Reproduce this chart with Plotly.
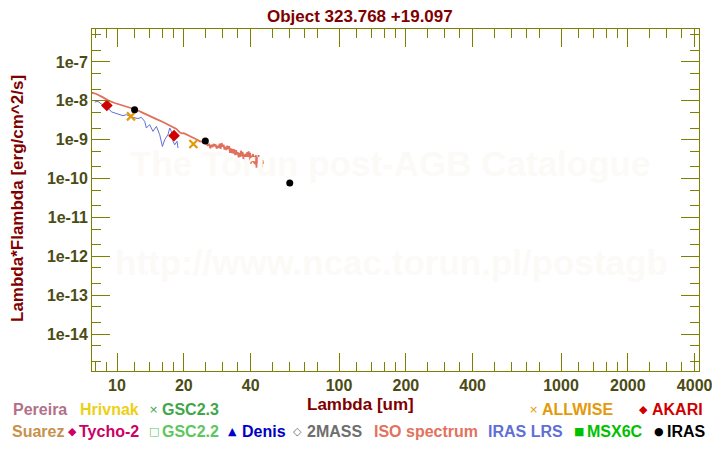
import plotly.graph_objects as go

# ── Data ────────────────────────────────────────────────
iso_lam = [7.71, 8.08, 8.65, 9.11, 9.76, 10.64, 11.41, 12.23, 13.09, 14.03,
           15.05, 16.11, 17.28, 18.52, 19.16, 19.6, 20.0, 20.54, 21.0, 21.5,
           22.0, 22.5, 23.0, 23.6, 24.1, 24.6, 25.2, 25.6,
           26.0, 26.3, 26.6, 26.9, 27.2, 27.5, 27.8, 28.1, 28.4, 28.7,
           29.0, 29.3, 29.6, 29.9, 30.2, 30.5, 30.8, 31.1, 31.4, 31.7,
           32.0, 32.3, 32.6, 32.9, 33.2, 33.5, 33.8, 34.1, 34.4, 34.7,
           35.0, 35.3, 35.6, 35.9, 36.2, 36.5, 36.8, 37.1, 37.4, 37.7,
           38.0, 38.3, 38.6, 38.9, 39.2, 39.5, 39.8, 40.1, 40.4, 40.7,
           41.0, 41.3, 41.6, 41.9, 42.2, 42.5, 42.8, 43.1, 43.4, 43.7,
           44.0, 44.3, 44.6, 44.9, 45.2, 45.5]
iso_flux = [1.62e-8, 1.50e-8, 1.23e-8, 1.03e-8, 8.8e-9, 7.6e-9, 6.8e-9, 5.9e-9, 4.9e-9, 4.0e-9,
            3.4e-9, 2.86e-9, 2.34e-9, 1.89e-9, 1.55e-9, 1.45e-9, 1.47e-9, 1.35e-9, 1.30e-9, 1.18e-9,
            1.12e-9, 1.06e-9, 1.0e-9, 9.1e-10, 9.0e-10, 8.2e-10, 8.0e-10, 7.2e-10,
            7.6e-10, 6.0e-10, 7.4e-10, 6.4e-10, 7.8e-10, 6.8e-10, 7.6e-10, 5.9e-10, 7.0e-10, 6.2e-10,
            7.9e-10, 5.8e-10, 8.2e-10, 6.6e-10, 7.4e-10, 5.6e-10, 6.6e-10, 5.4e-10, 7.0e-10, 5.8e-10,
            6.8e-10, 4.6e-10, 6.0e-10, 4.5e-10, 5.8e-10, 4.4e-10, 5.6e-10, 4.0e-10, 5.4e-10, 4.2e-10,
            4.8e-10, 3.5e-10, 4.6e-10, 3.6e-10, 5.2e-10, 3.8e-10, 4.9e-10, 3.2e-10, 4.2e-10, 3.0e-10,
            4.4e-10, 2.8e-10, 4.8e-10, 3.4e-10, 5.0e-10, 2.6e-10, 4.6e-10, 2.4e-10, 3.9e-10, 2.7e-10,
            4.3e-10, 2.5e-10, 3.8e-10, 2.3e-10, 4.0e-10, 1.9e-10, 3.6e-10, 2.5e-10, 4.0e-10, 2.0e-10,
            3.4e-10, 2.2e-10, 3.3e-10, 1.9e-10, 3.0e-10, 2.4e-10]

lrs_lam = [7.94, 8.21, 8.51, 9.11, 9.44, 9.94, 10.64, 11.02, 11.61, 12.43,
           12.88, 13.33, 13.56, 14.03, 14.53, 15.05, 15.57, 16.02, 16.40, 16.97,
           17.28, 17.58, 17.88, 18.2, 18.64, 18.83]
lrs_flux = [9.35e-9, 9.7e-9, 8.3e-9, 6.55e-9, 5.2e-9, 4.7e-9, 4.15e-9, 4.4e-9, 3.85e-9, 3.5e-9,
            3.75e-9, 2.96e-9, 2.0e-9, 2.44e-9, 1.64e-9, 2.2e-9, 1.35e-9, 6.7e-10, 1.0e-9, 1.35e-9,
            2.0e-9, 1.64e-9, 9.1e-10, 7.4e-10, 9.1e-10, 6.1e-10]

akari_lam = [9.0, 18.07]
akari_flux = [7.6e-9, 1.27e-9]

allwise_lam = [11.56, 22.08]
allwise_flux = [3.98e-9, 7.76e-10]

iras_lam = [12.0, 25.0, 60.0]
iras_flux = [5.92e-9, 9.27e-10, 7.7e-11]

x_ticks = [10, 20, 40, 100, 200, 400, 1000, 2000, 4000]
x_minor = [8, 9, 12, 14, 16, 18, 25, 30, 35, 50, 60, 70, 80,
           120, 140, 160, 180, 250, 300, 350, 500, 600, 700, 800,
           1200, 1400, 1600, 1800, 2500, 3000, 3500]
y_ticks = [1e-7, 1e-8, 1e-9, 1e-10, 1e-11, 1e-12, 1e-13, 1e-14]
y_labels = ["1e-7", "1e-8", "1e-9", "1e-10", "1e-11", "1e-12", "1e-13", "1e-14"]
y_minor = [m * 10.0 ** e for e in range(-15, -6) for m in (2, 5)]

# legend rows: (symbol, label, color)
legend_row1 = [("", "Pereira", "#b37089"), ("", "Hrivnak", "#ecd016"),
               ("×", "GSC2.3", "#3fa64a"), ("×", "ALLWISE", "#e39a0a"),
               ("◆", "AKARI", "#d00000")]
legend_row2 = [("", "Suarez", "#c8914c"), ("◆", "Tycho-2", "#cc0066"),
               ("□", "GSC2.2", "#5ec65e"), ("▲", "Denis", "#0000c8"),
               ("◇", "2MASS", "#6e6e6e"), ("", "ISO spectrum", "#e2725e"),
               ("", "IRAS LRS", "#5f6fd6"), ("■", "MSX6C", "#00c000"),
               ("●", "IRAS", "#000000")]

OLIVE = "#808000"
LABEL = "#4b4b14"
MAROON = "#800000"
FONT = "Liberation Sans, Arial, sans-serif"

# the page body adds an 8px margin, so the figure is drawn 8px smaller
# and all window positions below are shifted by that offset
OFF = 8
W, H = 720 - OFF, 450 - OFF
L, R, T, B = 84, 21, 21, 79
PW, PH = W - L - R, H - T - B


def px(xp):
    return (xp - OFF - L) / PW


def py(yp):
    return (H - B - (yp - OFF)) / PH


fig = go.Figure()

fig.add_trace(go.Scatter(x=iso_lam, y=iso_flux, mode="lines",
                         line=dict(color="#e0705c", width=1.8), hoverinfo="skip"))
fig.add_trace(go.Scatter(x=lrs_lam, y=lrs_flux, mode="lines",
                         line=dict(color="#5f6fd6", width=1), hoverinfo="skip"))
fig.add_trace(go.Scatter(x=allwise_lam, y=allwise_flux, mode="markers",
                         marker=dict(symbol="x-thin", size=8, line=dict(color="#e39a0a", width=2.2))))
fig.add_trace(go.Scatter(x=akari_lam, y=akari_flux, mode="markers",
                         marker=dict(symbol="diamond", size=9, color="#d00000")))
fig.add_trace(go.Scatter(x=iras_lam, y=iras_flux, mode="markers",
                         marker=dict(symbol="circle", size=7, color="#000000")))

axis_common = dict(
    type="log", showgrid=False, zeroline=False, automargin=False,
    showline=True, linecolor=OLIVE, linewidth=1, mirror="allticks",
    ticks="inside", ticklen=18, tickwidth=1, tickcolor=OLIVE,
    tickmode="array",
    tickfont=dict(family=FONT, size=16, color=LABEL, weight="bold"),
)

fig.update_xaxes(
    **axis_common,
    range=[0.8874, 3.6216],
    tickvals=x_ticks, ticktext=[str(v) for v in x_ticks],
    minor=dict(tickmode="array", tickvals=x_minor, ticks="inside",
               ticklen=9, tickwidth=1, tickcolor=OLIVE, showgrid=False),
)
fig.update_yaxes(
    **axis_common,
    range=[-14.952, -6.151],
    tickvals=y_ticks, ticktext=y_labels,
    minor=dict(tickmode="array", tickvals=y_minor, ticks="inside",
               ticklen=9, tickwidth=1, tickcolor=OLIVE, showgrid=False),
)

ann = []
# watermark
ann.append(dict(x=px(390), y=py(163), text="<b>The Torun post-AGB Catalogue</b>",
                font=dict(family=FONT, size=35, color="#fcfaf7")))
ann.append(dict(x=px(391), y=py(262), text="<b>http://www.ncac.torun.pl/postagb</b>",
                font=dict(family=FONT, size=35, color="#fcfaf7")))
# titles
ann.append(dict(x=px(360), y=py(17), text="<b>Object 323.768 +19.097</b>",
                font=dict(family=FONT, size=17, color=MAROON)))
ann.append(dict(x=px(360), y=py(404), text="<b>Lambda [um]</b>",
                font=dict(family=FONT, size=17, color=MAROON)))
ann.append(dict(x=px(17), y=py(199), text="<b>Lambda*Flambda [erg/cm^2/s]</b>",
                textangle=-90, font=dict(family=FONT, size=17, color=MAROON)))

# legend text, left edges in window pixels
row1_x = [(None, 11), (None, 78), (147, 160), (527, 540), (637, 650)]
row2_x = [(None, 10), (66, 77), (147, 160), (226, 240), (291, 305),
          (None, 372), (None, 486), (572, 585), (652, 665)]
for items, xs, yrow in ((legend_row1, row1_x, 410), (legend_row2, row2_x, 431)):
    for (sym, label, col), (sx, tx) in zip(items, xs):
        if sym:
            ann.append(dict(x=px(sx), y=py(yrow), text=sym, xanchor="left",
                            font=dict(family="DejaVu Sans", size=11, color=col)))
        ann.append(dict(x=px(tx), y=py(yrow), text="<b>%s</b>" % label, xanchor="left",
                        font=dict(family=FONT, size=16, color=col)))

for a in ann:
    a.setdefault("xref", "paper")
    a.setdefault("yref", "paper")
    a.setdefault("showarrow", False)
    a.setdefault("xanchor", "center")
    a.setdefault("yanchor", "middle")
fig.update_layout(annotations=ann)

fig.update_layout(
    width=W, height=H,
    margin=dict(l=L, r=R, t=T, b=B, autoexpand=False),
    paper_bgcolor="white", plot_bgcolor="white",
    showlegend=False,
    font=dict(family=FONT),
)

fig.write_html("out.html")
